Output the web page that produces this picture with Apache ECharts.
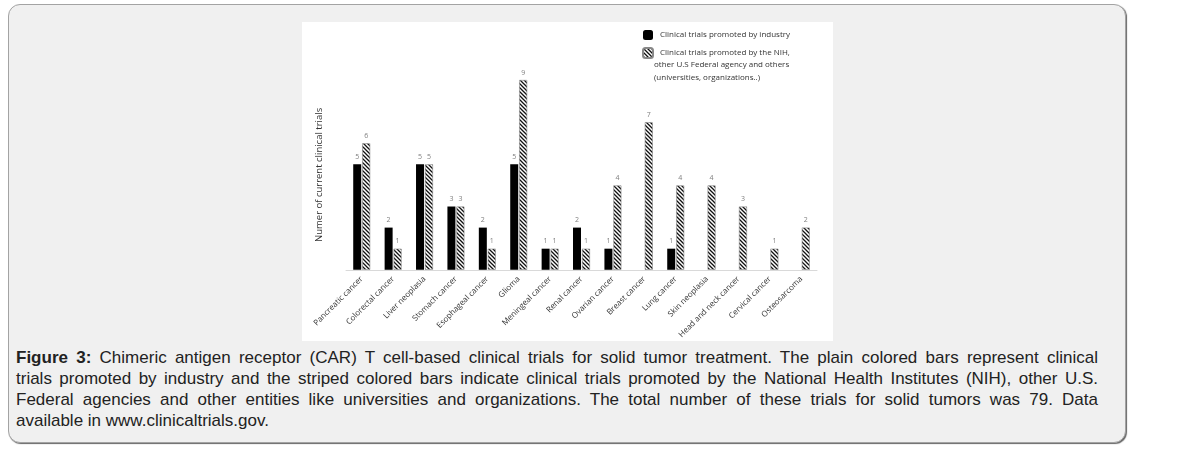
<!DOCTYPE html>
<html>
<head>
<meta charset="utf-8">
<script src="https://cdn.jsdelivr.net/npm/echarts@6/dist/echarts.min.js"></script>
<style>
html, body { margin: 0; padding: 0; background: #fff; }
body { width: 1192px; height: 449px; position: relative; overflow: hidden; }
#box {
  position: absolute; left: 8px; top: 4px; width: 1116px; height: 437px;
  background: #f0f0f0; border: 1px solid #a3a3a3; border-radius: 12px;
  box-shadow: 1px 1px 1px #666;
}
#chart {
  position: absolute; left: 302px; top: 22px; width: 531px; height: 319px;
  background: #fff;
}
#caption {
  position: absolute; left: 16px; top: 347px; width: 1082px;
  font-family: "Liberation Sans Narrow", "Arial Narrow", "Liberation Sans", sans-serif; font-size: 17px;
  line-height: 21px; color: #222;
}
#caption div { text-align: justify; text-align-last: justify; white-space: nowrap; }
#caption div.last { text-align-last: left; }
</style>
</head>
<body>
<div id="box"></div>
<div id="chart"></div>
<div id="caption">
  <div><b>Figure 3:</b> Chimeric antigen receptor (CAR) T cell-based clinical trials for solid tumor treatment. The plain colored bars represent clinical</div>
  <div>trials promoted by industry and the striped colored bars indicate clinical trials promoted by the National Health Institutes (NIH), other U.S.</div>
  <div>Federal agencies and other entities like universities and organizations. The total number of these trials for solid tumors was 79. Data</div>
  <div class="last">available in www.clinicaltrials.gov.</div>
</div>
<script>
var categories = ["Pancreatic cancer", "Colorectal cancer", "Liver neoplasia", "Stomach cancer",
  "Esophageal cancer", "Glioma", "Meningeal cancer", "Renal cancer", "Ovarian cancer",
  "Breast cancer", "Lung cancer", "Skin neoplasia", "Head and neck cancer", "Cervical cancer",
  "Osteosarcoma"];
var industry = [5, 2, 5, 3, 2, 5, 1, 2, 1, null, 1, null, null, null, null];
var nihOthers = [6, 1, 5, 3, 1, 9, 1, 1, 4, 7, 4, 4, 3, 1, 2];

var legendIndustry = "Clinical trials promoted by industry";
var legendNih = ["Clinical trials promoted by the NIH,",
  "other U.S Federal agency and others",
  "(universities, organizations..)"];

// hatch pattern "\\\"
function makeHatch() {
  var c = document.createElement("canvas");
  c.width = 4; c.height = 4;
  var ctx = c.getContext("2d");
  ctx.fillStyle = "#fff";
  ctx.fillRect(0, 0, 4, 4);
  ctx.strokeStyle = "#111";
  ctx.lineWidth = 1.3;
  ctx.beginPath();
  ctx.moveTo(-1, -1); ctx.lineTo(5, 5);
  ctx.moveTo(-1, 3); ctx.lineTo(1, 5);
  ctx.moveTo(3, -1); ctx.lineTo(5, 1);
  ctx.stroke();
  return c;
}
var hatch = { image: makeHatch(), repeat: "repeat" };

var font = "'Open Sans', 'Liberation Sans', sans-serif";
var chart = echarts.init(document.getElementById("chart"));
var labelStyle = {
  show: true, position: "top", distance: 4,
  fontSize: 7, color: "#7f7f7f", fontFamily: font
};
var option = {
  animation: false,
  grid: { left: 44, right: 16, top: 58, bottom: 68 },
  legend: {
    orient: "vertical",
    left: 335, top: 3,
    itemWidth: 10, itemHeight: 10, itemGap: 7,
    textStyle: { fontSize: 8, color: "#333", fontFamily: font, padding: [0, 0, 0, 2] },
    data: [legendIndustry, legendNih[0]]
  },
  graphic: [
    {
      type: "text", left: 352, top: 36,
      style: {
        text: legendNih[1] + "\n" + legendNih[2],
        fontSize: 8, lineHeight: 13, fill: "#333", fontFamily: font
      }
    }
  ],
  xAxis: {
    type: "category",
    data: categories,
    axisTick: { show: false },
    axisLine: { lineStyle: { color: "#d9d9d9", width: 1 } },
    axisLabel: {
      interval: 0, rotate: 45, fontSize: 8, color: "#333",
      fontFamily: font, margin: 8
    }
  },
  yAxis: {
    type: "value",
    min: 0, max: 9,
    name: "Numer of current clinical trials",
    nameLocation: "middle",
    nameGap: 22,
    nameTextStyle: { fontSize: 9.5, color: "#333", fontFamily: font },
    axisLine: { show: false },
    axisTick: { show: false },
    axisLabel: { show: false },
    splitLine: { show: false }
  },
  series: [
    {
      name: legendIndustry,
      type: "bar",
      data: industry,
      barWidth: 8,
      barGap: "12%",
      itemStyle: { color: "#000" },
      label: labelStyle
    },
    {
      name: legendNih[0],
      type: "bar",
      data: nihOthers,
      barWidth: 8,
      itemStyle: { color: hatch, borderColor: "#888", borderWidth: 0.6 },
      label: labelStyle
    }
  ]
};
chart.setOption(option);
</script>
</body>
</html>
